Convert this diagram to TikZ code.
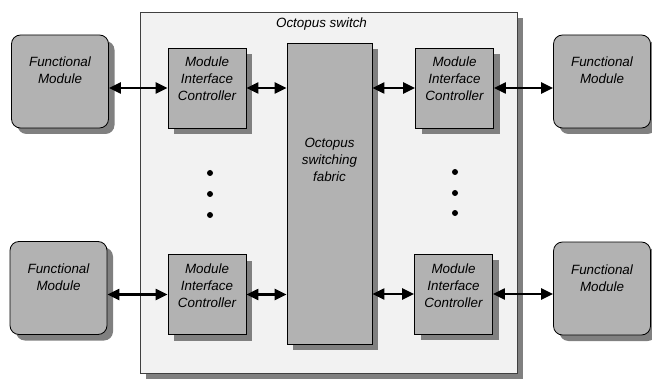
\documentclass[tikz,border=0pt]{standalone}
\usepackage{fontspec}
\setmainfont{Liberation Sans}
\usetikzlibrary{arrows.meta,shadows,positioning}
\definecolor{boxgray}{HTML}{B2B2B2}
\definecolor{swbg}{HTML}{F2F2F2}
\definecolor{shgray}{HTML}{808080}

\begin{document}
\begin{tikzpicture}[x=1pt,y=-1pt,
    every node/.style={font=\fontsize{13.4}{17}\selectfont\itshape,align=center},
    shd/.style={general shadow={fill=shgray,shadow xshift=6pt,shadow yshift=-6pt}},
    fmod/.style={draw,line width=0.8pt,fill=boxgray,rounded corners=9pt,shd,
      minimum width=97pt,minimum height=93pt,text height=27pt,text depth=22pt},
    mic/.style={draw,line width=0.8pt,fill=boxgray,shd,inner sep=0pt,
      minimum width=78pt,minimum height=80pt,text height=44pt,text depth=18pt},
    lnk/.style={line width=2.2pt,{Triangle[length=12pt,width=11pt]}-{Triangle[length=12pt,width=11pt]}}]
 \useasboundingbox (0,0) rectangle (652,379);
 % switch frame
 \node[draw=black!75,line width=0.8pt,fill=swbg,shd,minimum width=377pt,minimum height=361pt,
   label={[anchor=center,xshift=-7pt,yshift=-12pt]north:Octopus switch}] (SW) at (328.5,192.5) {};
 \node[draw,line width=0.8pt,fill=boxgray,shd,inner sep=0pt,minimum width=85pt,minimum height=301pt,
   text height=44pt,text depth=67pt] (FAB) at (329.5,193.5) {Octopus\\switching\\fabric};
 % modules
 \node[fmod] (FM1) at (60,81.5) {Functional\\Module};
 \node[fmod] (FM2) at (58.5,288) {Functional\\Module};
 \node[fmod] (FM3) at (602,81.5) {Functional\\Module};
 \node[fmod] (FM4) at (602,288.5) {Functional\\Module};
 \node[mic] (MIC1) at (207,88) {Module\\Interface\\Controller};
 \node[mic] (MIC2) at (207,294.5) {Module\\Interface\\Controller};
 \node[mic] (MIC3) at (454.5,88) {Module\\Interface\\Controller};
 \node[mic] (MIC4) at (453.5,294) {Module\\Interface\\Controller};
 % links
 \foreach \A/\B in {FM1/MIC1,FM2/MIC2}
   \draw[lnk] (\A.east |- \B.west) -- (\B.west);
 \foreach \A/\B in {MIC1/FAB,MIC2/FAB}
   \draw[lnk] (\A.east) -- (\B.west |- \A.east);
 \foreach \A/\B in {FAB/MIC3,FAB/MIC4}
   \draw[lnk] (\A.east |- \B.west) -- (\B.west);
 \foreach \A/\B in {MIC3/FM3,MIC4/FM4}
   \draw[lnk] (\A.east) -- (\B.west |- \A.east);
 % dots
 \foreach \y in {173,194,215} \fill (210,\y) circle (3pt);
 \foreach \y in {172,193,213} \fill (455,\y) circle (3pt);
\end{tikzpicture}
\end{document}
